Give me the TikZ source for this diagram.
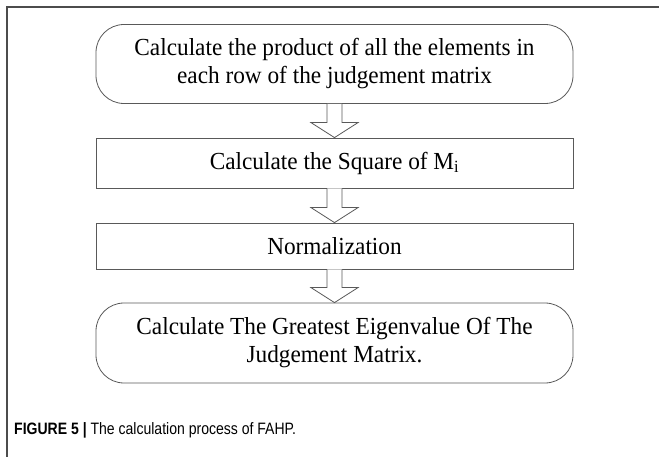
\documentclass[tikz,border=0pt]{standalone}
\usepackage{fontspec}
\setmainfont[FakeStretch=0.95]{Liberation Serif}
\newfontfamily\capfont[FakeStretch=0.85]{Liberation Sans}
\usetikzlibrary{calc}
\begin{document}
\begin{tikzpicture}[x=1pt,y=-1pt,
  boxline/.style={draw=black!65,line width=0.8pt},
  roundbox/.style={boxline,rounded corners=28pt,minimum width=477pt,align=center,font=\fontsize{24.5}{28}\selectfont,inner sep=0pt},
  rectbox/.style={boxline,minimum width=477pt,align=center,font=\fontsize{24.5}{28}\selectfont,inner sep=0pt},
  blockarrow/.style={draw=black!65,line width=0.8pt,fill=white,line join=miter},
  frameline/.style={draw=black!70,line width=1.6pt}]
\useasboundingbox (0,0) rectangle (659,457);
\draw[frameline] (659,7) -- (7,7) -- (7,457);
\node[roundbox,minimum height=79pt] (s1) at (334.5,64) {Calculate the product of all the elements in\\each row of the judgement matrix};
\node[rectbox,minimum height=50pt] (s2) at (334.5,163) {Calculate the Square of M\textsubscript{i}};
\node[rectbox,minimum height=46pt] (s3) at (334.5,246) {Normalization};
\node[roundbox,minimum height=80pt] (s4) at (334.5,343) {Calculate The Greatest Eigenvalue Of The\\Judgement Matrix.};
\foreach \a/\b in {s1/s2,s2/s3,s3/s4}{
  \draw[blockarrow] ($(\a.south)+(-7.5,0)$) -- ($(\b.north)+(-7.5,-15)$) -- ($(\b.north)+(-23.5,-15)$) -- (\b.north) -- ($(\b.north)+(23.5,-15)$) -- ($(\b.north)+(7.5,-15)$) -- ($(\a.south)+(7.5,0)$);
}
\node[anchor=west,inner sep=0pt,font=\capfont\fontsize{16.5}{20}\selectfont] (cap) at (14,430) {\textbf{FIGURE 5 |} The calculation process of FAHP.};
\end{tikzpicture}
\end{document}
